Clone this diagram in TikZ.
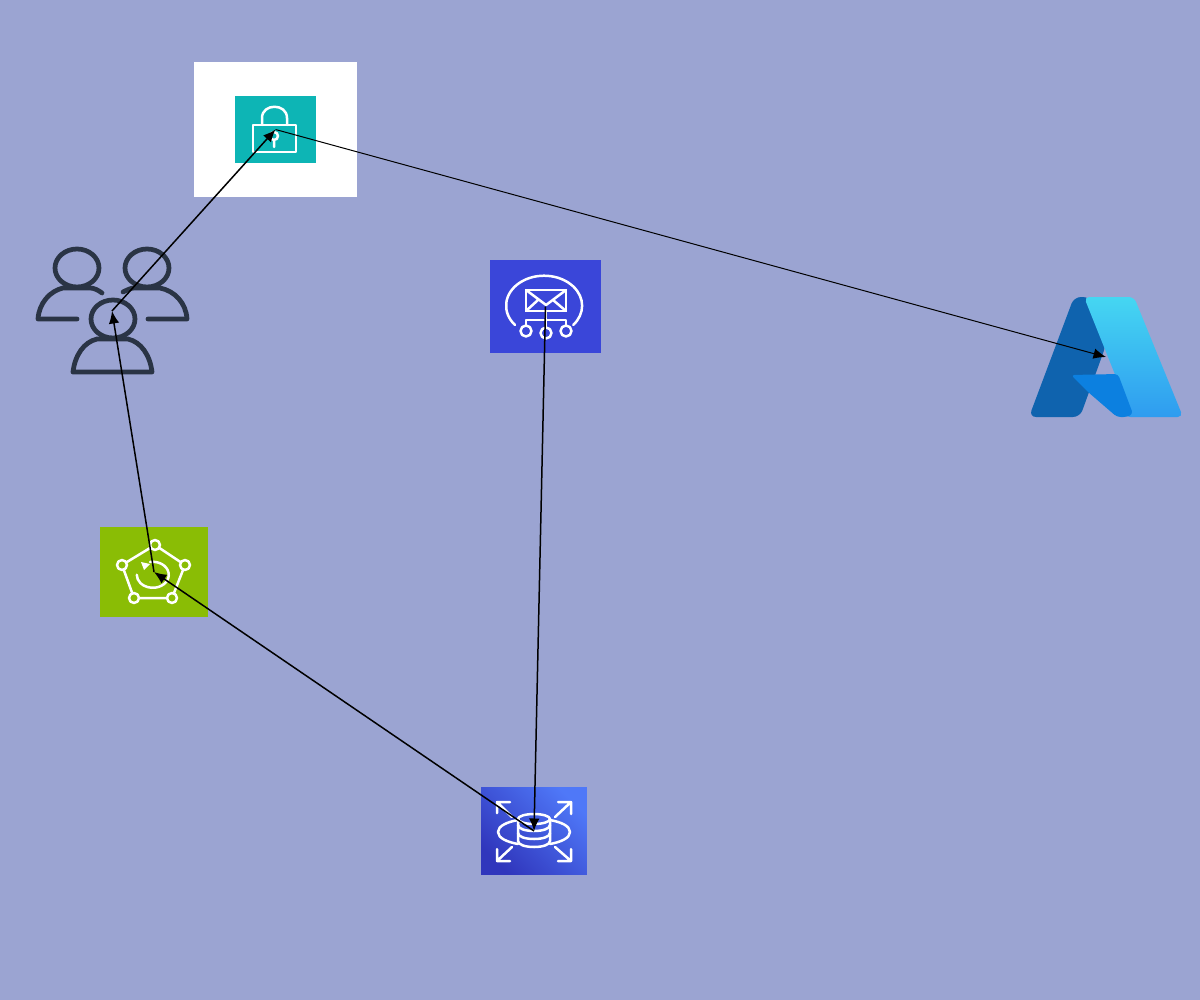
\documentclass[tikz,border=0pt]{standalone}
\usepackage{xcolor}
\usetikzlibrary{arrows.meta}
\definecolor{page}{HTML}{9BA4D2}
\definecolor{ink}{HTML}{2A3445}
\definecolor{teal}{HTML}{0DB5B5}
\definecolor{indigo}{HTML}{3A46D9}
\definecolor{lime}{HTML}{8ABD05}
\definecolor{dbdark}{HTML}{3036BC}
\definecolor{dblight}{HTML}{4F78F8}
\definecolor{azdark}{HTML}{0F63AE}
\definecolor{azmid}{HTML}{0C80E0}
\definecolor{azcyan}{HTML}{45D6F2}
\definecolor{azsky}{HTML}{2F9CF0}
\tikzset{
  iconbox/.style={rectangle, inner sep=0pt},
  glyph/.style={draw=white, line width=0.05cm, line cap=round, line join=round},
  person/.style={draw=ink, line width=0.095cm, line cap=round, line join=round},
  link/.style={draw=black, line width=0.3mm, -{Latex[length=2.5mm,width=2.1mm]}},
  linkthin/.style={link, line width=0.2mm},
}
\begin{document}
\begin{tikzpicture}[x=0.02cm,y=-0.02cm]
  \useasboundingbox (0,0) rectangle (1200,1000);
  \fill[page] (0,0) rectangle (1200,1000);
  \node[iconbox,fill=white,minimum width=3.26cm,minimum height=2.7cm] (lock) at (275.5,129.5) {};
  \node[iconbox,minimum width=3.06cm,minimum height=2.56cm] (users) at (112,311) {};
  \node[iconbox,fill=indigo,minimum width=2.22cm,minimum height=1.86cm] (mail) at (545.5,306.5) {};
  \node[iconbox,minimum width=3.04cm,minimum height=2.4cm] (azure) at (1106,357) {};
  \node[iconbox,fill=lime,minimum width=2.16cm,minimum height=1.8cm] (mesh) at (154,572) {};
  \node[iconbox,bottom color=dbdark,top color=dblight,shading angle=-45,minimum width=2.12cm,minimum height=1.76cm] (db) at (534,831) {};

  \fill[teal] (235,96) rectangle (316,163);
  \draw[glyph] (253,125) rectangle (296,152);
  \draw[glyph] (262,125) -- (262,118) .. controls (262,103) and (287,103) .. (287,118) -- (287,125);
  \draw[glyph] (274,136) circle (4) (274,140) -- (274,147);

  \foreach \cx/\cy in {77/268,147/268,113/319}
    \draw[person] (\cx,\cy) ellipse (22 and 19);
  \draw[person] (77,319) -- (38,319) .. controls (39,303) and (50,291) .. (63,288) -- (90,288) .. controls (94,288) and (98,290) .. (102,293);
  \draw[person] (148,319) -- (187,319) .. controls (186,303) and (175,291) .. (160,288) -- (134,288) .. controls (131,288) and (127,290) .. (123,292);
  \draw[person] (73,372) -- (152,372) .. controls (150,355) and (141,342) .. (128,339) -- (97,339) .. controls (84,342) and (75,355) .. (73,372);

  \draw[glyph] (515,325) arc[start angle=140,end angle=400,x radius=38,y radius=30];
  \draw[glyph] (526,290) rectangle (566,311);
  \draw[glyph] (526,290) -- (546,305) -- (566,290) (526,311) -- (538,300) (566,311) -- (553,300);
  \draw[glyph] (546,311) -- (546,327) (526,325) -- (526,320) -- (566,320) -- (566,325);
  \foreach \cx/\cy in {526/331,546/333,566/331}
    \draw[glyph] (\cx,\cy) circle (5.5);

  \draw[glyph] (155,545) -- (185,565) -- (172,598) -- (134,598) -- (122,565) -- cycle;
  \foreach \cx/\cy in {155/545,122/565,185/565,134/598,172/598}
    \filldraw[glyph,fill=lime] (\cx,\cy) circle (5);
  \draw[glyph] (150,562) arc[start angle=260,end angle=540,x radius=16,y radius=13];
  \fill[white] (141,562) -- (150,564) -- (144,570) -- cycle;

  \draw[glyph] (498,832) .. controls (498,826) and (507,822) .. (518,820) (570,832) .. controls (570,826) and (561,822) .. (550,820);
  \draw[glyph] (498,832) .. controls (498,838) and (507,842) .. (518,844) (570,832) .. controls (570,838) and (561,842) .. (550,844);
  \draw[glyph] (534,819) ellipse (16 and 5);
  \draw[glyph] (518,819) -- (518,841) .. controls (518,849) and (550,849) .. (550,841) -- (550,819);
  \draw[glyph] (518,825) .. controls (518,833) and (550,833) .. (550,825);
  \draw[glyph] (518,833) .. controls (518,841) and (550,841) .. (550,833);
  \draw[glyph] (512,817) -- (497,802) (497,813) -- (497,802) -- (510,802);
  \draw[glyph] (555,817) -- (571,802) (558,802) -- (571,802) -- (571,814);
  \draw[glyph] (512,847) -- (497,861) (497,849) -- (497,861) -- (510,861);
  \draw[glyph] (555,847) -- (571,861) (571,849) -- (571,861) -- (558,861);

  \fill[azdark,rounded corners=4pt] (1074,297) -- (1090,297) -- (1106,345) -- (1080,417) -- (1029,417) -- cycle;
  \shade[top color=azcyan,bottom color=azsky,rounded corners=3pt] (1084,297) -- (1134,297) -- (1183,417) -- (1125,417) -- (1130,412) -- cycle;
  \fill[azmid,rounded corners=2pt] (1071,375) -- (1118,374) -- (1133,414) -- (1127,417) -- (1117,417) -- (1088,392) -- cycle;

  \draw[link] (users.center) -- (lock.center);
  \draw[linkthin] (lock.center) -- (azure.center);
  \draw[link] (mail.center) -- (db.center);
  \draw[link] (db.center) -- (mesh.center);
  \draw[link] (mesh.center) -- (users.center);
\end{tikzpicture}
\end{document}
